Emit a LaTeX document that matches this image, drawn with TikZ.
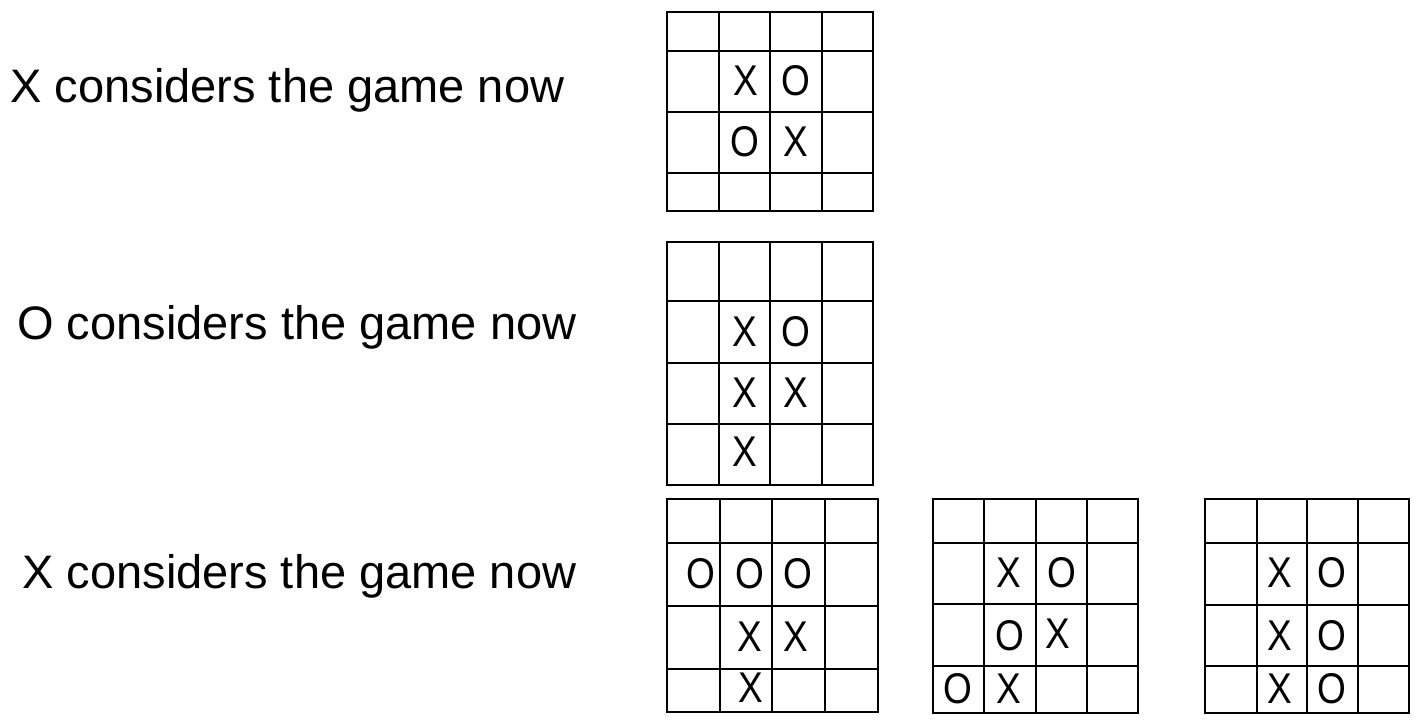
\documentclass[tikz,border=0pt]{standalone}
\usepackage{fontspec}
\setmainfont{Liberation Sans}
\usetikzlibrary{positioning}
\newcommand{\pc}[1]{\scalebox{0.86}[1]{#1}}
\tikzset{
	board/.style={line width=1.3pt, black},
	piece/.style={inner sep=0pt, font=\fontsize{21.5}{22}\selectfont},
	caption/.style={inner sep=0pt, anchor=base west, font=\fontsize{23.5}{26}\selectfont}
}

\begin{document}
\begin{tikzpicture}[x=0.5pt, y=-0.5pt]
		%%%%% START %%%%%
		\useasboundingbox (0, 0) rectangle (1424, 727);
		
		\node[caption] (say1) at (10, 103) {X considers the game now};
		\node[caption] (say2) at (17, 339) {O considers the game now};
		\node[caption] (say3) at (22, 588) {X considers the game now};
		
		% board 1
		\draw[board] (667, 12) rectangle (873, 211);
		\foreach \x in {719, 770, 822} \draw[board] (\x, 12) -- (\x, 211);
		\foreach \y in {51, 112, 173} \draw[board] (667, \y) -- (873, \y);
		\node[piece] (a1) at (746, 81) {\pc{X}};
		\node[piece] (a2) at (796, 81) {\pc{O}};
		\node[piece] (a3) at (745, 142) {\pc{O}};
		\node[piece] (a4) at (796, 142) {\pc{X}};
		
		% board 2
		\draw[board] (667, 242) rectangle (873, 485);
		\foreach \x in {719, 770, 822} \draw[board] (\x, 242) -- (\x, 485);
		\foreach \y in {301, 363, 424} \draw[board] (667, \y) -- (873, \y);
		\node[piece] (b1) at (745, 332) {\pc{X}};
		\node[piece] (b2) at (796, 332) {\pc{O}};
		\node[piece] (b3) at (745, 393) {\pc{X}};
		\node[piece] (b4) at (796, 393) {\pc{X}};
		\node[piece] (b5) at (745, 452) {\pc{X}};
		
		% board 3
		\draw[board] (667, 499) rectangle (878, 712);
		\foreach \x in {720, 772, 825} \draw[board] (\x, 499) -- (\x, 712);
		\foreach \y in {543, 606, 669} \draw[board] (667, \y) -- (878, \y);
		\node[piece] (c1) at (701, 574) {\pc{O}};
		\node[piece] (c2) at (750, 574) {\pc{O}};
		\node[piece] (c3) at (798, 574) {\pc{O}};
		\node[piece] (c4) at (750, 637) {\pc{X}};
		\node[piece] (c5) at (796, 637) {\pc{X}};
		\node[piece] (c6) at (751, 688) {\pc{X}};
		
		% board 4
		\draw[board] (933, 499) rectangle (1138, 713);
		\foreach \x in {984, 1036, 1087} \draw[board] (\x, 499) -- (\x, 713);
		\foreach \y in {543, 604, 666} \draw[board] (933, \y) -- (1138, \y);
		\node[piece] (d1) at (1009, 573) {\pc{X}};
		\node[piece] (d2) at (1062, 573) {\pc{O}};
		\node[piece] (d3) at (1010, 636) {\pc{O}};
		\node[piece] (d4) at (1058, 634) {\pc{X}};
		\node[piece] (d5) at (958, 689) {\pc{O}};
		\node[piece] (d6) at (1009, 689) {\pc{X}};
		
		% board 5
		\draw[board] (1205, 499) rectangle (1409, 713);
		\foreach \x in {1257, 1307, 1358} \draw[board] (\x, 499) -- (\x, 713);
		\foreach \y in {543, 605, 666} \draw[board] (1205, \y) -- (1409, \y);
		\node[piece] (e1) at (1280, 573) {\pc{X}};
		\node[piece] (e2) at (1332, 573) {\pc{O}};
		\node[piece] (e3) at (1280, 636) {\pc{X}};
		\node[piece] (e4) at (1332, 636) {\pc{O}};
		\node[piece] (e5) at (1280, 689) {\pc{X}};
		\node[piece] (e6) at (1332, 689) {\pc{O}};
		%%%%% END %%%%%
\end{tikzpicture}
\end{document}
